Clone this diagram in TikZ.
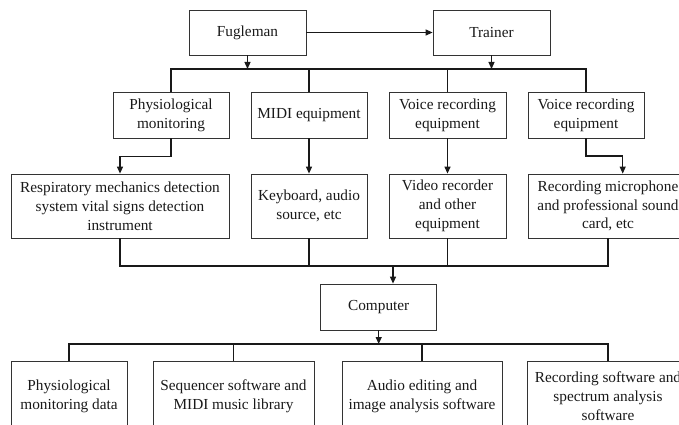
\documentclass[tikz,border=0pt]{standalone}
\usepackage{fontspec}
\setmainfont{Liberation Serif}
\usetikzlibrary{arrows.meta,positioning}

\tikzset{
  box/.style={draw=black!80, line width=0.8pt, align=center, inner sep=0pt,
              font=\fontsize{15.3}{18.8}\selectfont, text=black!90},
  link/.style={line width=1.2pt, black!90},
  arr/.style={link, -{Triangle[length=7pt,width=6pt]}}
}

\begin{document}
\begin{tikzpicture}[x=1pt,y=-1pt]
  \useasboundingbox (0,0) rectangle (679,425);

  % top level
  \node[box, minimum width=117pt, minimum height=45pt] (fug) at (247.5,32.5) {Fugleman};
  \node[box, minimum width=117pt, minimum height=45pt] (tra) at (491.5,32.5) {Trainer};

  % equipment categories
  \node[box, minimum width=116pt, minimum height=46pt] (phy) at (171,115) {Physiological\\monitoring};
  \node[box, minimum width=116pt, minimum height=46pt] (midi) at (309,115) {MIDI equipment};
  \node[box, minimum width=117pt, minimum height=46pt] (vo1) at (447.5,115) {Voice recording\\equipment};
  \node[box, minimum width=116pt, minimum height=46pt] (vo2) at (586,115) {Voice recording\\equipment};

  % concrete devices
  \node[box, minimum width=218pt, minimum height=64pt] (resp) at (120,206) {Respiratory mechanics detection\\system vital signs detection\\instrument};
  \node[box, minimum width=116pt, minimum height=64pt] (kbd) at (309,206) {Keyboard, audio\\source, etc};
  \node[box, minimum width=117pt, minimum height=64pt] (vid) at (447.5,206) {Video recorder\\and other\\equipment};
  \node[box, minimum width=160pt, minimum height=64pt] (mic) at (608,206) {Recording microphone\\and professional sound\\card, etc};

  % computer
  \node[box, minimum width=116pt, minimum height=46pt] (comp) at (378.7,307) {Computer};

  % software / data
  \node[box, minimum width=116pt, minimum height=70pt] (d1) at (69,396) {Physiological\\monitoring data};
  \node[box, minimum width=161pt, minimum height=70pt] (d2) at (233.5,396) {Sequencer software and\\MIDI music library};
  \node[box, minimum width=160pt, minimum height=70pt] (d3) at (422,396) {Audio editing and\\image analysis software};
  \node[box, minimum width=162pt, minimum height=70pt] (d4) at (608,396) {Recording software and\\spectrum analysis\\software};

  % bus junctions
  \coordinate (b1f) at (247.5,69);
  \coordinate (b1t) at (491.5,69);
  \coordinate (micin) at (622.7,156);
  \coordinate (b2in) at (393,266);
  \coordinate (b2r) at (608,266);
  \coordinate (b3) at (378.7,344);

  % fugleman -> trainer
  \draw[arr] (fug.east) -- (tra.west);

  % upper distribution bus
  \draw[arr] (fug.south) -- (b1f);
  \draw[arr] (tra.south) -- (b1t);
  \draw[link] (phy.north) |- (vo2.north |- b1f) -- (vo2.north);
  \draw[link] (midi.north) -- (midi.north |- b1f);
  \draw[link] (vo1.north) -- (vo1.north |- b1f);

  % categories -> devices
  \draw[arr] (phy.south) -- ++(0,18) -| (resp.north);
  \draw[arr] (midi.south) -- (kbd.north);
  \draw[arr] (vo1.south) -- (vid.north);
  \draw[arr] (vo2.south) |- (micin) -- (micin |- mic.north);

  % devices -> computer
  \draw[link] (resp.south) |- (b2r) -- (mic.south);
  \draw[link] (kbd.south) -- (kbd.south |- b2r);
  \draw[link] (vid.south) -- (vid.south |- b2r);
  \draw[arr] (b2in) -- (b2in |- comp.north);

  % computer -> software
  \draw[arr] (comp.south) -- (b3);
  \draw[link] (d1.north) |- (d4.north |- b3) -- (d4.north);
  \draw[link] (d2.north) -- (d2.north |- b3);
  \draw[link] (d3.north) -- (d3.north |- b3);
\end{tikzpicture}
\end{document}
